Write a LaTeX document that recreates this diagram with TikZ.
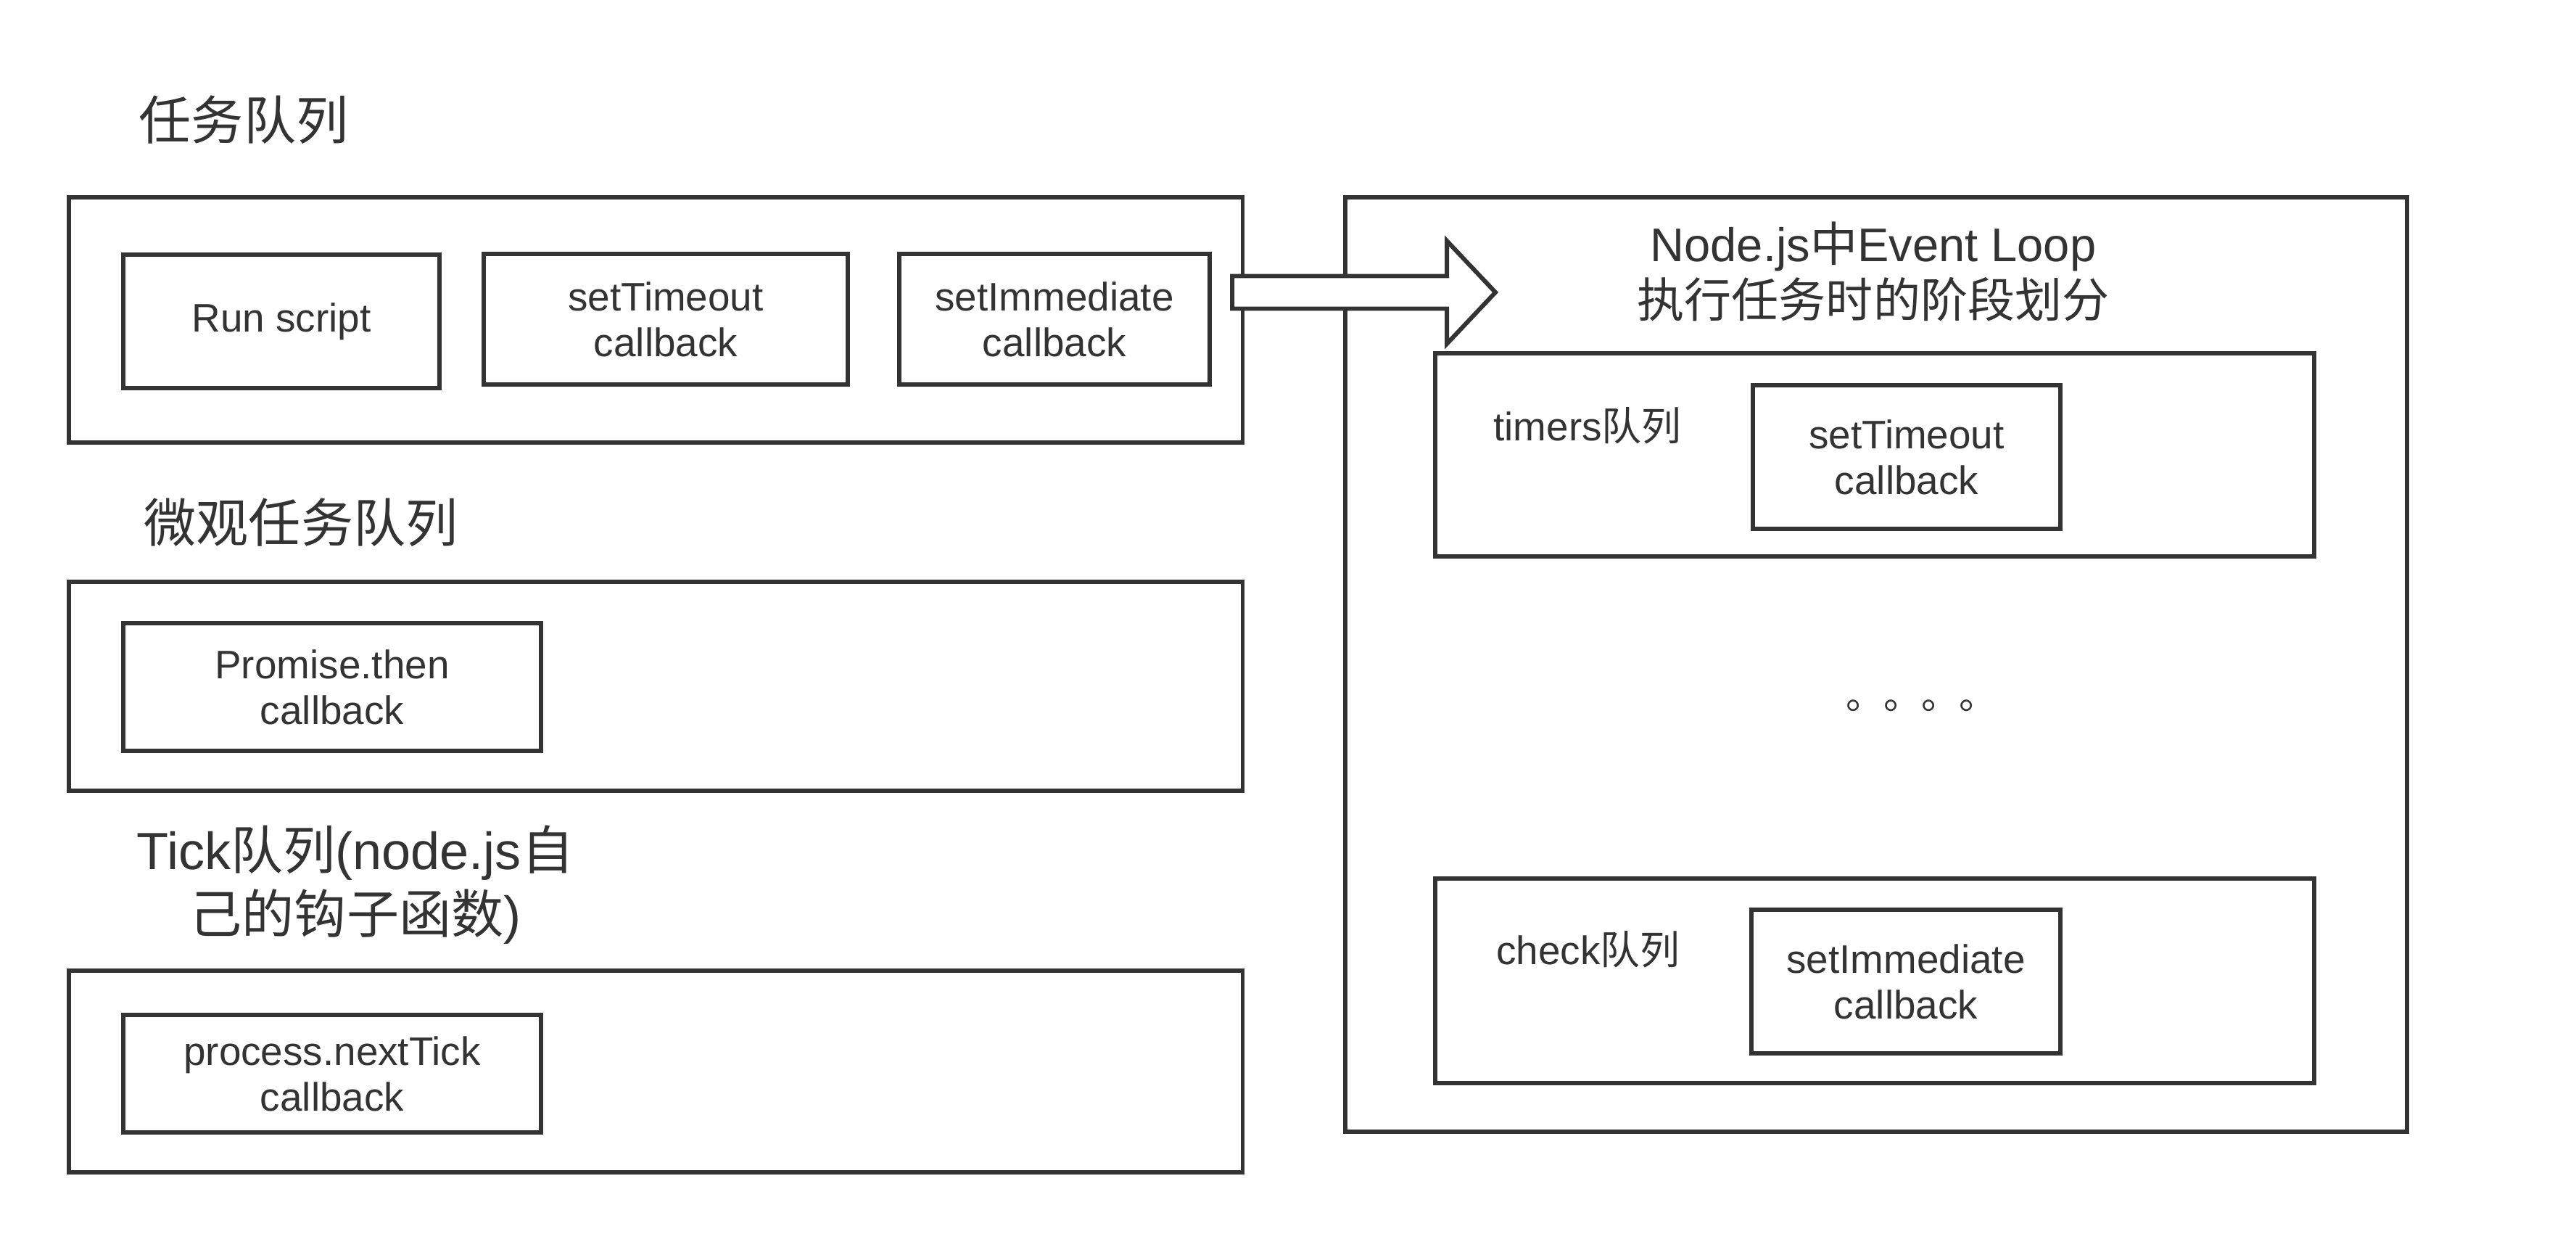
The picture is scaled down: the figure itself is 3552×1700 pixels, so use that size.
\documentclass[tikz,border=0pt]{standalone}
\usepackage{fontspec}
\setmainfont{Liberation Sans}
\newfontfamily\cjk{Noto Sans CJK SC}
\newcommand{\zhtxt}[1]{{\cjk #1}}
\definecolor{ink}{HTML}{333333}
\tikzset{
  bx/.style 2 args={draw=ink, line width=1.7pt, inner sep=0pt, align=center, text=ink,
    minimum width=#1cm, minimum height=#2cm},
  smalltxt/.style={font=\fontsize{15.6pt}{17.9pt}\selectfont},
  bigtxt/.style={text=ink, inner sep=0pt, align=center, font=\fontsize{20.5pt}{25pt}\selectfont},
  midtxt/.style={text=ink, inner sep=0pt, align=center, font=\fontsize{18.5pt}{21.9pt}\selectfont},
  lbl/.style={text=ink, inner sep=0pt, align=center, font=\fontsize{15.6pt}{17.9pt}\selectfont},
  bigarrow/.style={draw=ink, line width=1.7pt, fill=white, line join=miter}
}
\begin{document}
\begin{tikzpicture}[x=0.01cm,y=-0.01cm]
\useasboundingbox (0,0) rectangle (3552,1700);

% left column
\node[bigtxt] (t1) at (336,165) {\zhtxt{任务队列}};
\node[bx={16.18}{3.38}] (q1) at (904,441) {};
\node[bx={4.35}{1.84}, smalltxt] (run) at (388,443) {Run script};
\node[bx={5.01}{1.80}, smalltxt] (sto) at (918,440) {setTimeout\\callback};
\node[bx={4.28}{1.80}, smalltxt] (sim) at (1454,440) {setImmediate\\callback};

\node[bigtxt] (t2) at (415,720) {\zhtxt{微观任务队列}};
\node[bx={16.18}{2.88}] (q2) at (904,946) {};
\node[bx={5.75}{1.76}, smalltxt] (prom) at (458,947) {Promise.then\\callback};

\node[bigtxt] (t3) at (490,1220) {Tick\zhtxt{队列}(node.js\zhtxt{自}\\\zhtxt{己的钩子函数})};
\node[bx={16.18}{2.77}] (q3) at (904,1477) {};
\node[bx={5.76}{1.62}, smalltxt] (tick) at (458,1480) {process.nextTick\\callback};

% right column
\node[bx={14.64}{12.88}] (el) at (2587,916) {};
\node[midtxt] (elt) at (2583,374) {Node.js\zhtxt{中}Event Loop\\\zhtxt{执行任务时的阶段划分}};

\node[bx={12.11}{2.80}] (timers) at (2585,627) {};
\node[lbl] (timerslbl) at (2189,587) {timers\zhtxt{队列}};
\node[bx={4.24}{1.98}, smalltxt] (tsto) at (2629,630) {setTimeout\\callback};

\node[text=ink, inner sep=0pt, anchor=base west, font=\fontsize{14.8pt}{17pt}\selectfont] (dots) at (2545,977) {\zhtxt{。。。。}};

\node[bx={12.11}{2.82}] (check) at (2585,1352) {};
\node[lbl] (checklbl) at (2190,1309) {check\zhtxt{队列}};
\node[bx={4.25}{1.98}, smalltxt] (csim) at (2628,1353) {setImmediate\\callback};

% block arrow from the task queue to the event loop box
\coordinate (as) at (1699,403);
\coordinate (tip) at (2062,403);
\draw[bigarrow] (as) ++(0,-22.5) -- ++(296,0) -- ++(0,-48.5) -- (tip)
  -- ++(-67,71) -- ++(0,-48.5) -- ++(-296,0) -- cycle;
\end{tikzpicture}
\end{document}
